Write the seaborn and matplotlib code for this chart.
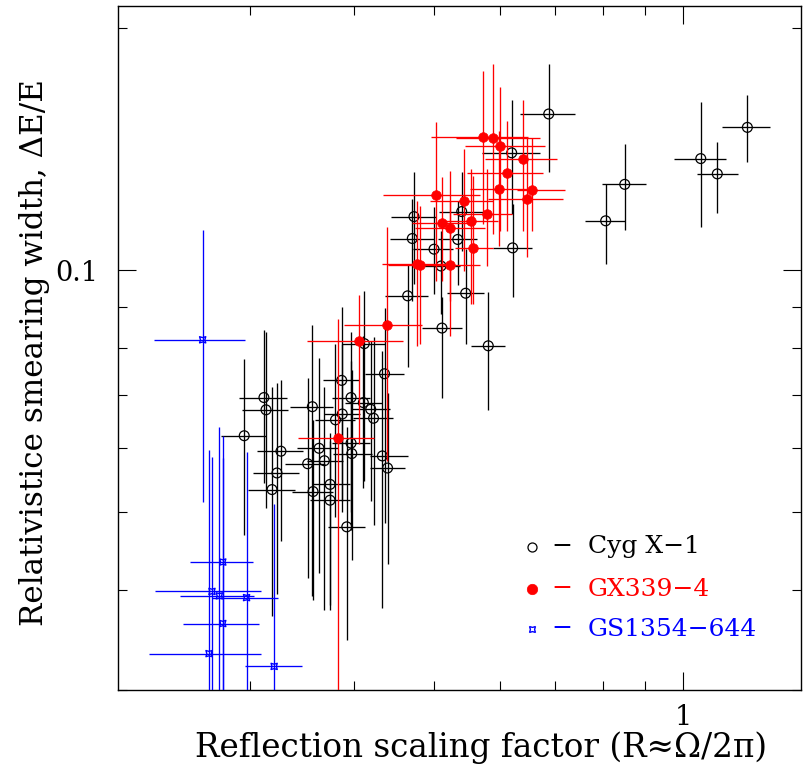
import numpy as np
import pandas as pd
import matplotlib
matplotlib.use("Agg")
import matplotlib.pyplot as plt
import seaborn as sns
from matplotlib.ticker import LogLocator, NullFormatter, FuncFormatter

# ---------------- data ----------------
# Cyg X-1 (open circles)
cyg_x = [0.2949, 0.3115, 0.3133, 0.3266, 0.3230, 0.3186, 0.3564, 0.3631, 0.3685, 0.3518,
         0.3571, 0.3744, 0.3744, 0.3922, 0.3867, 0.3969, 0.3873, 0.3801, 0.4107, 0.4192,
         0.4225, 0.3969, 0.3977, 0.4330, 0.4393, 0.4118, 0.4356, 0.4646, 0.4728, 0.4706,
         0.4999, 0.5399, 0.5340, 0.5097, 0.5459, 0.5111, 0.5813, 0.6221, 0.6204, 0.6877,
         0.8057, 0.8496, 1.0496, 1.0990, 1.1948]
cyg_x_lo = [0.2765, 0.2908, 0.2933, 0.3053, 0.3024, 0.2977, 0.3350, 0.3413, 0.3509, 0.3303,
            0.3366, 0.3558, 0.3541, 0.3726, 0.3671, 0.3761, 0.3677, 0.3590, 0.3903, 0.3977,
            0.3995, 0.3761, 0.3778, 0.4184, 0.4184, 0.3867, 0.4126, 0.4362, 0.4432, 0.4423,
            0.4719, 0.5069, 0.5059, 0.4848, 0.5187, 0.4831, 0.5536, 0.5890, 0.5708, 0.6349,
            0.7607, 0.7968, 0.9745, 1.0380, 1.1144]
cyg_x_hi = [0.3133, 0.3319, 0.3334, 0.3476, 0.3434, 0.3397, 0.3778, 0.3831, 0.3884, 0.3692,
            0.3778, 0.3958, 0.3958, 0.4126, 0.4061, 0.4184, 0.4069, 0.4013, 0.4323, 0.4423,
            0.4464, 0.4184, 0.4204, 0.4654, 0.4611, 0.4362, 0.4599, 0.4921, 0.5027, 0.4999,
            0.5266, 0.5760, 0.5629, 0.5374, 0.5745, 0.5399, 0.6089, 0.6559, 0.6711, 0.7400,
            0.8505, 0.9016, 1.1255, 1.1636, 1.2736]
cyg_y = [0.0622, 0.0694, 0.0670, 0.0595, 0.0559, 0.0533, 0.0676, 0.0600, 0.0579, 0.0574,
         0.0530, 0.0541, 0.0517, 0.0479, 0.0729, 0.0694, 0.0662, 0.0651, 0.0684, 0.0671,
         0.0654, 0.0609, 0.0591, 0.0587, 0.0567, 0.0810, 0.0743, 0.0929, 0.1166, 0.1095,
         0.1062, 0.1183, 0.1092, 0.1012, 0.0936, 0.0847, 0.0805, 0.1066, 0.1400, 0.1565,
         0.1152, 0.1279, 0.1377, 0.1318, 0.1506]
cyg_y_lo = [0.0468, 0.0543, 0.0506, 0.0460, 0.0395, 0.0371, 0.0393, 0.0420, 0.0377, 0.0414,
            0.0388, 0.0377, 0.0383, 0.0346, 0.0500, 0.0500, 0.0516, 0.0493, 0.0536, 0.0516,
            0.0481, 0.0474, 0.0435, 0.0379, 0.0431, 0.0547, 0.0484, 0.0757, 0.0962, 0.0916,
            0.0934, 0.1057, 0.0957, 0.0882, 0.0809, 0.0694, 0.0669, 0.0927, 0.1175, 0.1326,
            0.1018, 0.1122, 0.1131, 0.1178, 0.1363]
cyg_y_hi = [0.0775, 0.0843, 0.0837, 0.0730, 0.0724, 0.0716, 0.0855, 0.0778, 0.0715, 0.0733,
            0.0650, 0.0626, 0.0613, 0.0637, 0.0899, 0.0837, 0.0810, 0.0809, 0.0829, 0.0817,
            0.0825, 0.0771, 0.0750, 0.0794, 0.0704, 0.0943, 0.0897, 0.1019, 0.1326, 0.1228,
            0.1198, 0.1326, 0.1221, 0.1120, 0.1063, 0.0925, 0.0938, 0.1209, 0.1629, 0.1807,
            0.1281, 0.1436, 0.1621, 0.1446, 0.1653]

# GX339-4 (filled red circles)
gx_x = [0.5729, 0.5890, 0.6005, 0.6397, 0.6119, 0.5994, 0.6570, 0.6479, 0.5023, 0.5429,
        0.5797, 0.5545, 0.5107, 0.5226, 0.5567, 0.4765, 0.4808, 0.5230, 0.4387, 0.4054, 0.3828]
gx_x_lo = [0.4954, 0.5310, 0.5449, 0.5760, 0.5474, 0.5525, 0.6291, 0.5813, 0.4343, 0.4944,
           0.5275, 0.5059, 0.4698, 0.4741, 0.5299, 0.4322, 0.4398, 0.4968, 0.3892, 0.3515, 0.3428]
gx_x_hi = [0.6497, 0.6711, 0.6806, 0.7029, 0.6761, 0.6589, 0.7196, 0.7162, 0.5681, 0.5895,
           0.6204, 0.5978, 0.5603, 0.5760, 0.5895, 0.5275, 0.5226, 0.5681, 0.4831, 0.4590, 0.4231]
gx_y = [0.1467, 0.1460, 0.1427, 0.1376, 0.1322, 0.1263, 0.1259, 0.1225, 0.1241, 0.1219,
        0.1175, 0.1151, 0.1145, 0.1129, 0.1067, 0.1018, 0.1016, 0.1015, 0.0854, 0.0815, 0.0618]
gx_y_lo = [0.1142, 0.1110, 0.1120, 0.1120, 0.1120, 0.1072, 0.1120, 0.1037, 0.0970, 0.0999,
           0.1013, 0.0908, 0.0970, 0.0916, 0.0907, 0.0805, 0.0810, 0.0829, 0.0579, 0.0607, 0.0250]
gx_y_hi = [0.1770, 0.1807, 0.1689, 0.1629, 0.1535, 0.1492, 0.1461, 0.1461, 0.1528, 0.1416,
           0.1336, 0.1337, 0.1308, 0.1330, 0.1311, 0.1221, 0.1203, 0.1221, 0.1131, 0.0930, 0.0870]

# GS1354-644 (blue stars)
gs_x = [0.2627, 0.2778, 0.2696, 0.2752, 0.2968, 0.2778, 0.2674, 0.3205]
gs_x_lo = [0.2295, 0.2538, 0.2302, 0.2468, 0.2698, 0.2485, 0.2264, 0.2955]
gs_x_hi = [0.2957, 0.3024, 0.3087, 0.3034, 0.3239, 0.3072, 0.3092, 0.3466]
gs_y = [0.0819, 0.0433, 0.0398, 0.0393, 0.0391, 0.0363, 0.0333, 0.0321]
gs_y_lo = [0.0515, 0.025, 0.025, 0.025, 0.025, 0.025, 0.025, 0.025]
gs_y_hi = [0.1122, 0.0622, 0.0586, 0.0637, 0.0594, 0.0583, 0.0597, 0.0512]

series_names = ["Cyg X\u22121", "GX339\u22124", "GS1354\u2212644"]
x_label = "Reflection scaling factor (R\u2248\u03a9/2\u03c0)"
y_label = "Relativistice smearing width, \u0394E/E"

# ---------------- figure ----------------
sns.set_theme(style="ticks")
plt.rcParams["font.family"] = ["DejaVu Serif"]
plt.rcParams["axes.unicode_minus"] = True

fig = plt.figure(figsize=(8.05, 7.72), dpi=100)
ax = fig.add_axes([118 / 805, 82 / 772, 683 / 805, 684 / 772])
ax.set_xscale("log")
ax.set_yscale("log")


def make_df(x, xlo, xhi, y, ylo, yhi):
    return pd.DataFrame({"x": x, "xlo": xlo, "xhi": xhi, "y": y, "ylo": ylo, "yhi": yhi})


def draw(df, color, marker, s, fc, ec, mlw, z):
    ax.errorbar(df["x"], df["y"],
                xerr=[df["x"] - df["xlo"], df["xhi"] - df["x"]],
                yerr=[df["y"] - df["ylo"], df["yhi"] - df["y"]],
                fmt="none", ecolor=color, elinewidth=0.95, capsize=0, zorder=z)
    sns.scatterplot(data=df, x="x", y="y", ax=ax, marker=marker, s=s,
                    facecolor=fc, edgecolor=ec, linewidth=mlw, zorder=z + 0.5,
                    legend=False)


cyg = make_df(cyg_x, cyg_x_lo, cyg_x_hi, cyg_y, cyg_y_lo, cyg_y_hi)
gx = make_df(gx_x, gx_x_lo, gx_x_hi, gx_y, gx_y_lo, gx_y_hi)
gs = make_df(gs_x, gs_x_lo, gs_x_hi, gs_y, gs_y_lo, gs_y_hi)

draw(cyg, "black", "o", 50, "none", "black", 0.9, 2)
draw(gx, "#ff0000", "o", 48, "#ff0000", "#ff0000", 0.5, 3)
draw(gs, "#0000ff", (4, 1, 45), 40, "none", "#0000ff", 1.0, 4)

ax.set_xlim(0.2076, 1.387)
ax.set_ylim(0.0300, 0.2133)

# ticks
for axis in (ax.xaxis, ax.yaxis):
    axis.set_major_locator(LogLocator(base=10))
    axis.set_minor_locator(LogLocator(base=10, subs=np.arange(2, 10)))
    axis.set_minor_formatter(NullFormatter())
    axis.set_major_formatter(FuncFormatter(lambda v, p: f"{v:g}"))
ax.tick_params(which="both", direction="in", top=True, right=True,
               color="black", width=0.8, labelsize=19.5, labelcolor="black")
ax.tick_params(which="major", length=13)
ax.tick_params(which="minor", length=6.5)
ax.tick_params(axis="y", which="major", pad=14)
ax.tick_params(axis="x", which="major", pad=10)
for sp in ax.spines.values():
    sp.set_linewidth(1.0)
    sp.set_color("black")

ax.set_xlabel("")
ax.set_ylabel("")
ax.text((481.5 - 118) / 683, (690 - 748) / 684, x_label, transform=ax.transAxes,
        ha="center", va="center", fontsize=23.5, color="black")
ax.text((35 - 118) / 683, (690 - 353) / 684, y_label, transform=ax.transAxes,
        ha="center", va="center", rotation=90, fontsize=22.3, color="black")

# legend (manual, marker - dash - label)
leg_colors = ["black", "#ff0000", "#0000ff"]
leg_y = [(690 - 547) / 684, (690 - 589) / 684, (690 - 629) / 684]
leg_markers = [dict(marker="o", ms=6.5, mfc="none", mec="black", mew=0.9),
               dict(marker="o", ms=7.5, mfc="#ff0000", mec="#ff0000", mew=0.5),
               dict(marker=(4, 1, 45), ms=6, mfc="none", mec="#0000ff", mew=1.0)]
mx = (532 - 118) / 683
dx = (562 - 118) / 683
tx = (588 - 118) / 683
for name, c, yy, mk in zip(series_names, leg_colors, leg_y, leg_markers):
    ax.plot([mx], [yy], transform=ax.transAxes, linestyle="none", clip_on=False, **mk)
    ax.text(dx, yy, "\u2212", transform=ax.transAxes, ha="center", va="center",
            fontsize=18, color=c)
    ax.text(tx, yy, name, transform=ax.transAxes, ha="left", va="center",
            fontsize=18, color=c)

fig.savefig("out.png", dpi=100)
